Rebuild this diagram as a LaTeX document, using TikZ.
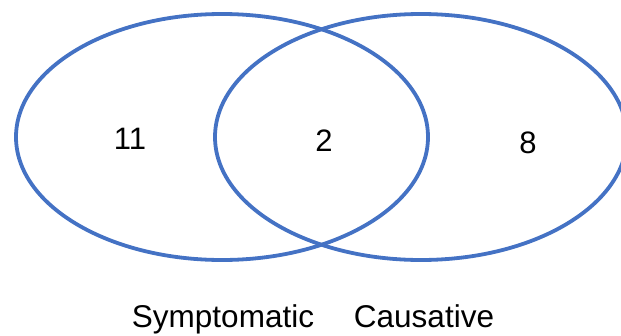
\documentclass[tikz,border=0pt]{standalone}
\usepackage{fontspec}
\setmainfont{Liberation Sans}
\usetikzlibrary{shapes.geometric}
\definecolor{vennblue}{HTML}{4472C4}
\tikzset{
  setshape/.style={ellipse, draw=vennblue, line width=3.8pt, inner sep=0pt,
    minimum width=412pt, minimum height=246pt},
  countlbl/.style={font=\fontsize{31}{36}\selectfont, inner sep=0pt, anchor=center},
  setlbl/.style={font=\fontsize{31.5}{36}\selectfont, inner sep=0pt, anchor=base}
}
\begin{document}
\begin{tikzpicture}[x=1pt,y=-1pt]
\useasboundingbox (0,0) rectangle (621,335);
\clip (0,0) rectangle (621,335);
\node[setshape] (left) at (222,137) {};
\node[setshape] (right) at (421,137) {};
\node[countlbl] (n11) at (130,139) {11};
\node[countlbl] (n2) at (324,141) {2};
\node[countlbl] (n8) at (528,143) {8};
\node[setlbl] (sym) at (223,327) {Symptomatic};
\node[setlbl] (cau) at (424,327) {Causative};
\end{tikzpicture}
\end{document}
